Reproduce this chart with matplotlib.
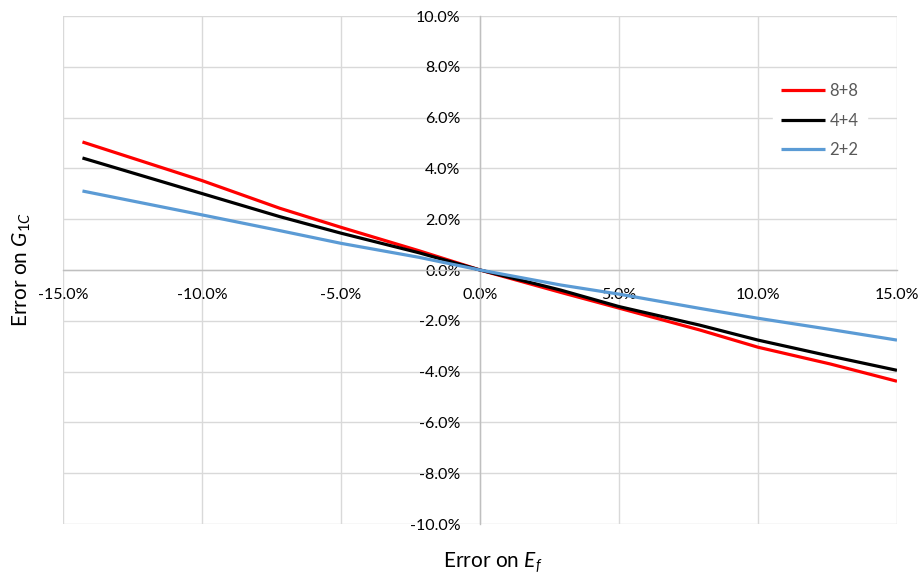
import matplotlib
matplotlib.use("Agg")
import matplotlib.pyplot as plt
from matplotlib.ticker import FuncFormatter, MultipleLocator

plt.rcParams['font.family'] = ['Lato', 'DejaVu Sans']
plt.rcParams['mathtext.fontset'] = 'custom'
plt.rcParams['mathtext.rm'] = 'Lato'
plt.rcParams['mathtext.it'] = 'Lato:style=italic'

# Data (percent)
err_ef = [-14.3, -10.0, -7.2, -5.0, -2.2, 0.0, 2.9, 5.0, 7.9, 10.0, 12.6, 15.0]
g_88 = [5.04, 3.52, 2.43, 1.68, 0.76, 0.0, -0.88, -1.50, -2.36, -3.04, -3.70, -4.38]
g_44 = [4.41, 3.01, 2.10, 1.45, 0.68, 0.0, -0.79, -1.44, -2.17, -2.76, -3.39, -3.95]
g_22 = [3.11, 2.17, 1.55, 1.05, 0.50, 0.0, -0.59, -0.95, -1.51, -1.90, -2.34, -2.76]
series_labels = ["8+8", "4+4", "2+2"]
series_colors = ["#ff0000", "#000000", "#5b9bd5"]

W, H = 921, 579
fig = plt.figure(figsize=(W / 100, H / 100), dpi=100)
ax = fig.add_axes([63 / W, 1 - 524 / H, 834 / W, 508 / H])

for vals, lab, col in zip([g_88, g_44, g_22], series_labels, series_colors):
    ax.plot(err_ef, vals, color=col, lw=2.3, label=lab, zorder=3,
            solid_capstyle='butt', solid_joinstyle='round')

ax.set_xlim(-15, 15)
ax.set_ylim(-10, 10)
ax.xaxis.set_major_locator(MultipleLocator(5))
ax.yaxis.set_major_locator(MultipleLocator(2))
fmt = FuncFormatter(lambda v, p: f"{v:.1f}%")
ax.xaxis.set_major_formatter(fmt)
ax.yaxis.set_major_formatter(fmt)

ax.grid(True, color="#d9d9d9", lw=1.0, zorder=0)
ax.set_axisbelow(True)

for s in ['top', 'right']:
    ax.spines[s].set_visible(False)
ax.spines['left'].set_position(('data', 0))
ax.spines['bottom'].set_position(('data', 0))
for s in ['left', 'bottom']:
    ax.spines[s].set_color("#bfbfbf")
    ax.spines[s].set_linewidth(1.0)
    ax.spines[s].set_zorder(1)

ax.tick_params(axis='both', length=0, labelsize=11.5, labelcolor="#000000")
ax.tick_params(axis='y', pad=14)
ax.tick_params(axis='x', pad=13)

leg = ax.legend(loc='upper right', bbox_to_anchor=(867 / W, 1 - 75 / H),
                bbox_transform=fig.transFigure, frameon=True, fontsize=12,
                handlelength=2.6, handletextpad=0.3, labelspacing=0.8,
                borderaxespad=0, borderpad=0.5, fancybox=False)
leg.get_frame().set_edgecolor('white')
leg.get_frame().set_facecolor('white')
leg.get_frame().set_alpha(1)
for t in leg.get_texts():
    t.set_color("#595959")

fig.text(22 / W, 1 - 270 / H, r"Error on $G_{1C}$", rotation=90,
         ha='center', va='center', fontsize=15)
fig.text(493 / W, 1 - 563 / H, r"Error on $E_f$", ha='center', va='center',
         fontsize=15)

fig.savefig("out.png", dpi=100)
